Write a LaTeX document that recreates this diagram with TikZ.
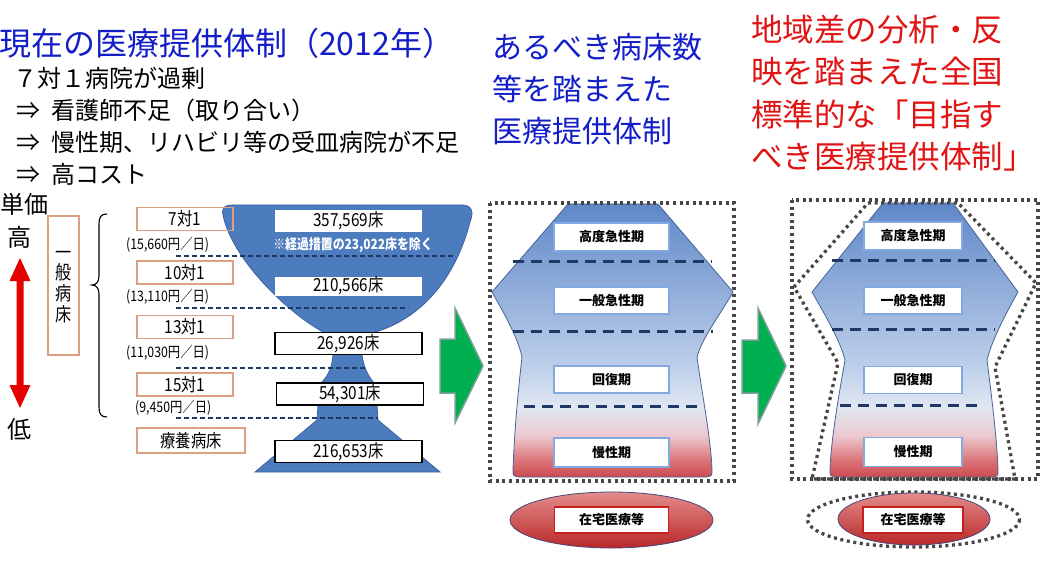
\documentclass[tikz,border=0pt]{standalone}
\usepackage{fontspec}
\setmainfont{Noto Sans CJK JP}
\newfontfamily\jpc[FakeStretch=0.85]{Noto Sans CJK JP}
\usetikzlibrary{shapes.geometric}
\definecolor{tblue}{RGB}{20,30,200}
\definecolor{tred}{RGB}{225,20,20}
\definecolor{salmon}{RGB}{222,160,130}
\definecolor{vasefill}{RGB}{76,123,190}
\definecolor{vaseedge}{RGB}{60,100,160}
\definecolor{navy}{RGB}{31,56,100}
\definecolor{dotgray}{RGB}{70,70,70}
\definecolor{gfill}{RGB}{0,176,80}
\definecolor{gedge}{RGB}{125,160,150}
\definecolor{lblue}{RGB}{130,170,225}
\definecolor{boxred}{RGB}{200,30,30}
\definecolor{shapeedge}{RGB}{70,100,150}
\definecolor{sh0}{RGB}{205,75,80}
\definecolor{sh1}{RGB}{218,115,120}
\definecolor{sh2}{RGB}{236,200,206}
\definecolor{sh3}{RGB}{226,231,242}
\definecolor{sh4}{RGB}{190,208,234}
\definecolor{sh5}{RGB}{95,135,200}
\definecolor{elltop}{RGB}{228,140,140}
\definecolor{ellbot}{RGB}{185,40,40}
\definecolor{elledge}{RGB}{70,70,120}
\pgfdeclareverticalshading{stage}{100bp}{color(0bp)=(sh0); color(25bp)=(sh0); color(28bp)=(sh1); color(32.5bp)=(sh2); color(37.5bp)=(sh3); color(45bp)=(sh4); color(75bp)=(sh5); color(100bp)=(sh5)}
\tikzset{
  txt/.style={anchor=base west, inner sep=0pt},
  lab/.style={draw=salmon, line width=1.2pt, minimum width=96pt, minimum height=23pt, inner sep=0pt, font=\jpc\fontsize{18}{18}\selectfont},
  cnt/.style={fill=white, minimum width=147pt, minimum height=22pt, inner sep=0pt, font=\jpc\fontsize{18}{18}\selectfont},
  cntb/.style={cnt, draw=black, line width=1.3pt},
  rate/.style={anchor=west, inner sep=0pt, font=\jpc\fontsize{14.5}{15}\selectfont},
  ldash/.style={navy, line width=1.3pt, dash pattern=on 5pt off 3pt},
  sdash/.style={navy, line width=3pt, dash pattern=on 11pt off 7pt},
  dotbox/.style={dotgray, line width=3.3pt, dash pattern=on 3pt off 3.6pt},
  stagebox/.style={draw=lblue, line width=1.5pt, fill=white, minimum height=27pt, inner sep=0pt, font=\fontsize{13}{13}\selectfont\bfseries},
  homebox/.style={draw=boxred, line width=1.3pt, fill=white, minimum height=26pt, inner sep=0pt, font=\fontsize{13}{13}\selectfont\bfseries},
  stageshape/.style={shading=stage, draw=shapeedge, line width=0.8pt},
  homeell/.style={ellipse, inner sep=0pt, top color=elltop, bottom color=ellbot, draw=elledge, line width=0.8pt},
  garrow/.style={fill=gfill, draw=gedge, line width=1.5pt},
}
\begin{document}
\begin{tikzpicture}[x=1pt,y=-1pt]
\useasboundingbox (0,0) rectangle (1040,561);

% ---------- titles ----------
\node[txt, text=tblue, font=\fontsize{32}{32}\selectfont] (title) at (-1,56) {現在の医療提供体制（2012年）};
\node[txt, font=\fontsize{24}{24}\selectfont] (l1) at (13,87.6) {７対１病院が過剰};
\node[txt, font=\fontsize{24}{24}\selectfont] (a2) at (16,119.6) {⇒};
\node[txt, font=\fontsize{24}{24}\selectfont] (l2) at (51,119.6) {看護師不足（取り合い）};
\node[txt, font=\fontsize{24}{24}\selectfont] (a3) at (16,151.6) {⇒};
\node[txt, font=\fontsize{24}{24}\selectfont] (l3) at (51,151.6) {慢性期、リハビリ等の受皿病院が不足};
\node[txt, font=\fontsize{24}{24}\selectfont] (a4) at (16,183.6) {⇒};
\node[txt, font=\fontsize{24}{24}\selectfont] (l4) at (51,183.6) {高コスト};

\node[txt, text=tblue, font=\fontsize{30}{30}\selectfont] (b1) at (492,58.8) {あるべき病床数};
\node[txt, text=tblue, font=\fontsize{30}{30}\selectfont] (b2) at (492,100.8) {等を踏まえた};
\node[txt, text=tblue, font=\fontsize{30}{30}\selectfont] (b3) at (492,142.8) {医療提供体制};

\node[txt, text=tred, font=\fontsize{31.5}{31.5}\selectfont] (c1) at (751,41.3) {地域差の分析・反};
\node[txt, text=tred, font=\fontsize{31.5}{31.5}\selectfont] (c2) at (751,83.3) {映を踏まえた全国};
\node[txt, text=tred, font=\fontsize{31.5}{31.5}\selectfont] (c3) at (751,126.3) {標準的な「目指す};
\node[txt, text=tred, font=\fontsize{31.5}{31.5}\selectfont] (c4) at (751,168.3) {べき医療提供体制」};

% ---------- left scale ----------
\node[txt, font=\fontsize{24}{24}\selectfont] (tanka) at (0,213.6) {単価};
\node[txt, font=\fontsize{24}{24}\selectfont] (hi) at (7,246.6) {高};
\node[txt, font=\fontsize{24}{24}\selectfont] (lo) at (7,438.6) {低};
\fill[red!90!black] (20,258) -- (30.5,281) -- (23.5,281) -- (23.5,385) -- (30.5,385) -- (20,408) -- (9.5,385) -- (16.5,385) -- (16.5,281) -- (9.5,281) -- cycle;

\node[draw=salmon, line width=1.2pt, minimum width=31pt, minimum height=139pt, inner sep=0pt] (ippan) at (63.5,285.5) {};
\node[align=center, inner sep=0pt, font=\jpc\fontsize{19}{20.7}\selectfont] (ippantxt) at (63.5,287) {一\\般\\病\\床};
\draw[line width=1.1pt] (107,214) .. controls (101,214) and (99,217) .. (99,224) -- (99,276) .. controls (99,282) and (96,285) .. (92,285) .. controls (96,285) and (99,288) .. (99,294) -- (99,407) .. controls (99,414) and (101,417) .. (107,417);

% ---------- vase ----------
\path[fill=vasefill, draw=vaseedge, line width=0.8pt]
  (232,205) -- (462,205) .. controls (472,205) and (474,212) .. (470,222)
  .. controls (455,280) and (420,320) .. (372,333)
  .. controls (364,340) and (362,348) .. (362,355)
  .. controls (364,370) and (370,378) .. (374,383) -- (377,405) -- (378,420) -- (440,472)
  -- (255,472) -- (317,420) -- (318,405) -- (321,383)
  .. controls (326,378) and (332,370) .. (333,355)
  .. controls (333,348) and (330,340) .. (325,333)
  .. controls (290,315) and (232,260) .. (223,215)
  .. controls (221,207) and (226,205) .. (232,205) -- cycle;

\draw[ldash] (176,256) -- (455,256);
\draw[ldash] (176,308) -- (408,308);
\draw[ldash] (176,368) -- (367,368);
\draw[ldash] (176,418) -- (378,418);

\node[cnt] (v1) at (348.5,221) {357,569床};
\node[inner sep=0pt, text=white, font=\jpc\fontsize{14}{14}\selectfont\bfseries] (note) at (353,245) {※経過措置の23,022床を除く};
\node[cnt, minimum height=19pt] (v2) at (348.5,286) {210,566床};
\node[cntb] (v3) at (348.5,343.5) {26,926床};
\node[cntb] (v4) at (350,394) {54,301床};
\node[cntb] (v5) at (348.5,451.5) {216,653床};

% ---------- labels ----------
\node[lab] (r7) at (185,219) {7対1};
\node[lab] (r10) at (185,272.5) {10対1};
\node[lab] (r13) at (185,327) {13対1};
\node[lab] (r15) at (185,384.5) {15対1};
\node[lab, minimum width=108pt, minimum height=25pt] (ryo) at (191,440.5) {療養病床};
\node[rate] (p7) at (126,245) {(15,660円／日)};
\node[rate] (p10) at (126,297) {(13,110円／日)};
\node[rate] (p13) at (126,353) {(11,030円／日)};
\node[rate] (p15) at (135,408) {(9,450円／日)};

% ---------- green arrows ----------
\path[garrow] (440,339) -- (455,339) -- (455,308) -- (483,366) -- (455,423) -- (455,393) -- (440,393) -- cycle;
\path[garrow] (742,340) -- (758,340) -- (758,308) -- (786,366) -- (758,424) -- (758,393) -- (742,393) -- cycle;

% ---------- middle diagram ----------
\path[stageshape] (568,204) -- (658,204) -- (733,292)
  .. controls (720,315) and (702,338) .. (697,357)
  .. controls (703,400) and (711,440) .. (712,470)
  .. controls (712,476) .. (706,477) -- (519,477)
  .. controls (513,476) .. (513,470)
  .. controls (514,440) and (517,400) .. (522,357)
  .. controls (518,338) and (505,315) .. (492,292) -- cycle;
\draw[sdash] (513,261) -- (712,261);
\draw[sdash] (513,331) -- (713,331);
\draw[sdash] (524,406) -- (700,406);
\draw[dotbox] (490,203) rectangle (734,481);
\node[stagebox, minimum width=115pt, minimum height=28pt] (m1) at (611.5,237) {高度急性期};
\node[stagebox, minimum width=115pt] (m2) at (611.5,300.5) {一般急性期};
\node[stagebox, minimum width=115pt] (m3) at (611.5,379.5) {回復期};
\node[stagebox, minimum width=115pt, minimum height=29pt] (m4) at (611.5,452.5) {慢性期};
\node[homeell, minimum width=203pt, minimum height=56pt] (e1) at (611.5,520) {};
\node[homebox, minimum width=114pt] (h1) at (611.5,520) {在宅医療等};

% ---------- right diagram ----------
\path[stageshape] (883,203) -- (953,203) -- (1018,292)
  .. controls (1005,315) and (992,340) .. (987,360)
  .. controls (992,400) and (997,440) .. (998,470)
  .. controls (998,476) .. (992,477) -- (836,477)
  .. controls (830,476) .. (830,470)
  .. controls (831,440) and (838,400) .. (845,360)
  .. controls (840,340) and (825,315) .. (812,292) -- cycle;
\draw[sdash] (832,260) -- (995,260);
\draw[sdash] (832,329) -- (995,329);
\draw[sdash] (840,405) -- (983,405);
\draw[dotbox] (792,200) rectangle (1038,479);
\draw[dotbox] (868,203) -- (958,203) -- (1036,283) -- (995,367) -- (1015,479) -- (812,479) -- (838,363) -- (794,287) -- cycle;
\node[stagebox, minimum width=98pt, minimum height=28pt] (n1) at (913,236) {高度急性期};
\node[stagebox, minimum width=98pt] (n2) at (913,300.5) {一般急性期};
\node[stagebox, minimum width=98pt] (n3) at (913,380) {回復期};
\node[stagebox, minimum width=98pt, minimum height=29pt] (n4) at (913,452) {慢性期};
\draw[dotbox] (913.5,519.5) ellipse [x radius=106, y radius=27.5];
\node[homeell, minimum width=152pt, minimum height=52pt] (e2) at (914,519) {};
\node[homebox, minimum width=100pt] (h2) at (913,520) {在宅医療等};
\end{tikzpicture}
\end{document}
